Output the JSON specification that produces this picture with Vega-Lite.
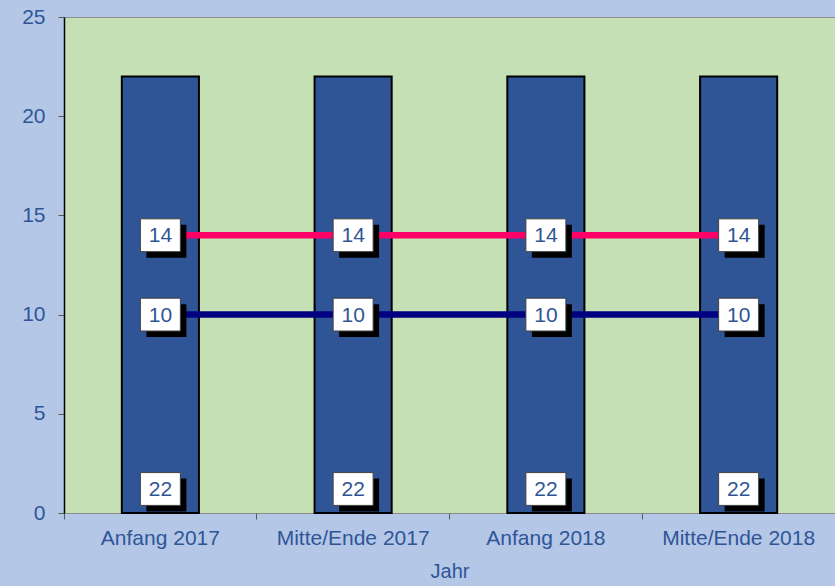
{
  "$schema": "https://vega.github.io/schema/vega-lite/v6.json",
  "width": 771,
  "height": 496,
  "autosize": {"type": "none"},
  "padding": {"left": 64, "top": 17, "right": 0, "bottom": 73},
  "background": "#B4C7E7",
  "config": {
    "view": {"fill": "#C5E0B4", "stroke": "#8C8C8C", "strokeWidth": 1},
    "font": "Liberation Sans",
    "axis": {
      "labelFont": "Liberation Sans",
      "titleFont": "Liberation Sans",
      "labelColor": "#2F5597",
      "titleColor": "#2F5597",
      "labelFontSize": 21,
      "titleFontSize": 20,
      "titleFontWeight": "normal",
      "grid": false
    }
  },
  "data": {
    "values": [
      {"Jahr": "Anfang 2017", "Serie": "Gesamt", "Wert": 22},
      {"Jahr": "Mitte/Ende 2017", "Serie": "Gesamt", "Wert": 22},
      {"Jahr": "Anfang 2018", "Serie": "Gesamt", "Wert": 22},
      {"Jahr": "Mitte/Ende 2018", "Serie": "Gesamt", "Wert": 22},
      {"Jahr": "Anfang 2017", "Serie": "Reihe 1", "Wert": 14},
      {"Jahr": "Mitte/Ende 2017", "Serie": "Reihe 1", "Wert": 14},
      {"Jahr": "Anfang 2018", "Serie": "Reihe 1", "Wert": 14},
      {"Jahr": "Mitte/Ende 2018", "Serie": "Reihe 1", "Wert": 14},
      {"Jahr": "Anfang 2017", "Serie": "Reihe 2", "Wert": 10},
      {"Jahr": "Mitte/Ende 2017", "Serie": "Reihe 2", "Wert": 10},
      {"Jahr": "Anfang 2018", "Serie": "Reihe 2", "Wert": 10},
      {"Jahr": "Mitte/Ende 2018", "Serie": "Reihe 2", "Wert": 10}
    ]
  },
  "layer": [
    {
      "transform": [{"filter": "datum.Serie === 'Gesamt'"}],
      "mark": {"type": "bar", "width": {"band": 0.4}, "fill": "#2F5597", "stroke": "#000000", "strokeWidth": 2},
      "encoding": {
        "x": {
          "field": "Jahr", "type": "nominal",
          "sort": ["Anfang 2017", "Mitte/Ende 2017", "Anfang 2018", "Mitte/Ende 2018"],
          "scale": {"paddingInner": 0, "paddingOuter": 0},
          "axis": {"orient": "bottom", "title": "Jahr", "labelAngle": 0, "ticks": false, "tickSize": 0, "labelPadding": 14, "titlePadding": 13, "domainColor": "#8C8C8C", "domainWidth": 1}
        },
        "y": {
          "field": "Wert", "type": "quantitative",
          "scale": {"domain": [0, 25], "nice": false},
          "axis": {"title": null, "values": [0, 5, 10, 15, 20, 25], "tickSize": 6, "tickColor": "#595959", "domainColor": "#000000", "domainWidth": 1.5, "labelPadding": 13}
        }
      }
    },
    {
      "transform": [{"filter": "datum.Serie !== 'Gesamt'"}],
      "mark": {"type": "line", "strokeWidth": 6.5},
      "encoding": {
        "x": {
          "field": "Jahr", "type": "nominal",
          "sort": ["Anfang 2017", "Mitte/Ende 2017", "Anfang 2018", "Mitte/Ende 2018"],
          "axis": {"orient": "bottom", "title": null, "labels": false, "labelAngle": 0, "bandPosition": 0, "ticks": true, "tickSize": 6, "tickColor": "#595959", "domain": false}
        },
        "y": {"field": "Wert", "type": "quantitative"},
        "color": {"field": "Serie", "type": "nominal", "scale": {"domain": ["Reihe 1", "Reihe 2"], "range": ["#FF0066", "#000080"]}, "legend": null}
      }
    },
    {
      "transform": [{"filter": "datum.Serie !== 'Gesamt'"}],
      "mark": {"type": "point", "shape": "M-1,-0.82H1V0.82H-1Z", "size": 1600, "filled": true, "fill": "#000000", "opacity": 1, "xOffset": 6, "yOffset": 6},
      "encoding": {
        "x": {"field": "Jahr", "type": "nominal", "sort": ["Anfang 2017", "Mitte/Ende 2017", "Anfang 2018", "Mitte/Ende 2018"], "axis": null},
        "y": {"field": "Wert", "type": "quantitative"}
      }
    },
    {
      "transform": [{"filter": "datum.Serie !== 'Gesamt'"}],
      "mark": {"type": "point", "shape": "M-1,-0.82H1V0.82H-1Z", "size": 1600, "filled": true, "fill": "#FFFFFF", "stroke": "#404040", "strokeWidth": 1, "opacity": 1},
      "encoding": {
        "x": {"field": "Jahr", "type": "nominal", "sort": ["Anfang 2017", "Mitte/Ende 2017", "Anfang 2018", "Mitte/Ende 2018"], "axis": null},
        "y": {"field": "Wert", "type": "quantitative"}
      }
    },
    {
      "transform": [{"filter": "datum.Serie !== 'Gesamt'"}],
      "mark": {"type": "text", "color": "#2F5597", "fontSize": 21, "font": "Liberation Sans", "align": "center", "baseline": "middle", "dy": 1},
      "encoding": {
        "x": {"field": "Jahr", "type": "nominal", "sort": ["Anfang 2017", "Mitte/Ende 2017", "Anfang 2018", "Mitte/Ende 2018"], "axis": null},
        "y": {"field": "Wert", "type": "quantitative"},
        "text": {"field": "Wert", "type": "quantitative"}
      }
    },
    {
      "transform": [{"filter": "datum.Serie === 'Gesamt'"}],
      "mark": {"type": "point", "shape": "M-1,-0.82H1V0.82H-1Z", "size": 1600, "filled": true, "fill": "#000000", "opacity": 1, "xOffset": 6, "yOffset": -18},
      "encoding": {
        "x": {"field": "Jahr", "type": "nominal", "sort": ["Anfang 2017", "Mitte/Ende 2017", "Anfang 2018", "Mitte/Ende 2018"], "axis": null},
        "y": {"datum": 0, "type": "quantitative"}
      }
    },
    {
      "transform": [{"filter": "datum.Serie === 'Gesamt'"}],
      "mark": {"type": "point", "shape": "M-1,-0.82H1V0.82H-1Z", "size": 1600, "filled": true, "fill": "#FFFFFF", "stroke": "#404040", "strokeWidth": 1, "opacity": 1, "yOffset": -24},
      "encoding": {
        "x": {"field": "Jahr", "type": "nominal", "sort": ["Anfang 2017", "Mitte/Ende 2017", "Anfang 2018", "Mitte/Ende 2018"], "axis": null},
        "y": {"datum": 0, "type": "quantitative"}
      }
    },
    {
      "transform": [{"filter": "datum.Serie === 'Gesamt'"}],
      "mark": {"type": "text", "color": "#2F5597", "fontSize": 21, "font": "Liberation Sans", "align": "center", "baseline": "middle", "dy": -23},
      "encoding": {
        "x": {"field": "Jahr", "type": "nominal", "sort": ["Anfang 2017", "Mitte/Ende 2017", "Anfang 2018", "Mitte/Ende 2018"], "axis": null},
        "y": {"datum": 0, "type": "quantitative"},
        "text": {"field": "Wert", "type": "quantitative"}
      }
    }
  ],
  "resolve": {"axis": {"x": "independent"}}
}
